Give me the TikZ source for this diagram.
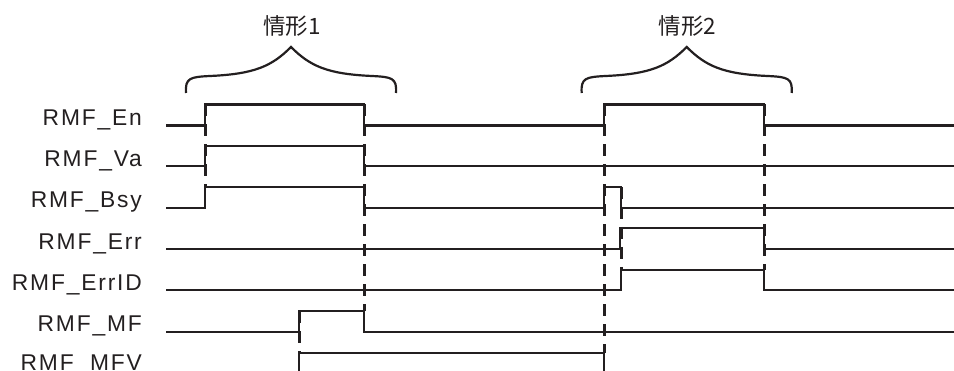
\documentclass[tikz,border=0pt]{standalone}
\usepackage{fontspec}
\setmainfont{Liberation Sans}[LetterSpace=8]
\newfontfamily\cjk{Noto Sans CJK SC}
\usetikzlibrary{positioning}
\definecolor{inkcolor}{RGB}{35,31,32}

\begin{document}
\begin{tikzpicture}[
  x=1pt,y=-1pt,
  every node/.style={font=\fontsize{22.8}{26}\selectfont,text=inkcolor,inner sep=0pt},
  wave/.style={draw=inkcolor,line width=2.3pt},
  sync/.style={draw=inkcolor,line width=3pt,dash pattern=on 12pt off 8pt},
  bracket/.style={draw=inkcolor,line width=2.2pt}
]
  \clip (0,0) rectangle (954,371);
  % signal names, one row every 41.25
  \foreach \name/\lbl [count=\i from 0] in {en/RMF\_En,va/RMF\_Va,bsy/RMF\_Bsy,
      err/RMF\_Err,errid/RMF\_ErrID,mf/RMF\_MF,mfv/RMF\_MFV}
    \node[anchor=base east] (\name) at (142,{125.5+41.25*\i-(\i==6)*2}) {\lbl};

  % waveforms
  \draw[wave] (166,125.5) -- (205,125.5) -- (205,104.5) -- (364,104.5) -- (364,125.5)
    -- (604,125.5) -- (604,104.5) -- (764,104.5) -- (764,125.5) -- (954,125.5);
  \draw[wave] (166,166) -- (205,166) -- (205,145.7) -- (364,145.7) -- (364,166) -- (954,166);
  \draw[wave] (166,207.7) -- (205,207.7) -- (205,187) -- (364,187) -- (364,207.7)
    -- (604,207.7) -- (604,187) -- (621,187) -- (621,207.7) -- (954,207.7);
  \draw[wave] (166,249) -- (620,249) -- (620,228.3) -- (764,228.3) -- (764,249) -- (954,249);
  \draw[wave] (166,290) -- (621,290) -- (621,269.7) -- (764,269.7) -- (764,290) -- (954,290);
  \draw[wave] (166,331.7) -- (299,331.7) -- (299,311.3) -- (364,311.3) -- (364,331.7) -- (954,331.7);
  \draw[wave] (166,373) -- (299,373) -- (299,352.7) -- (604,352.7) -- (604,373) -- (954,373);

  % timing marks
  \draw[sync] (205,104.5) -- (205,187);
  \draw[sync] (364,104.5) -- (364,311.3);
  \draw[sync] (299,311.3) -- (299,352.7);
  \draw[sync] (604,104.5) -- (604,352.7);
  \draw[sync] (621,187) -- (621,269.7);
  \draw[sync] (764,104.5) -- (764,269.7);

  % the two cases
  \foreach \dx/\k in {0/1,395.7/2}{
    \begin{scope}[xshift=\dx]
      \draw[bracket] (186,93) .. controls (185,78) and (190,77) .. (210,76)
        .. controls (255,74) and (272,66) .. (291,47)
        .. controls (310,66) and (327,74) .. (372,76)
        .. controls (392,77) and (397,78) .. (396,93);
      \node (case\k) at (292,26) {\cjk\fontsize{22.5}{26}\selectfont 情形\k};
    \end{scope}
  }
\end{tikzpicture}
\end{document}
